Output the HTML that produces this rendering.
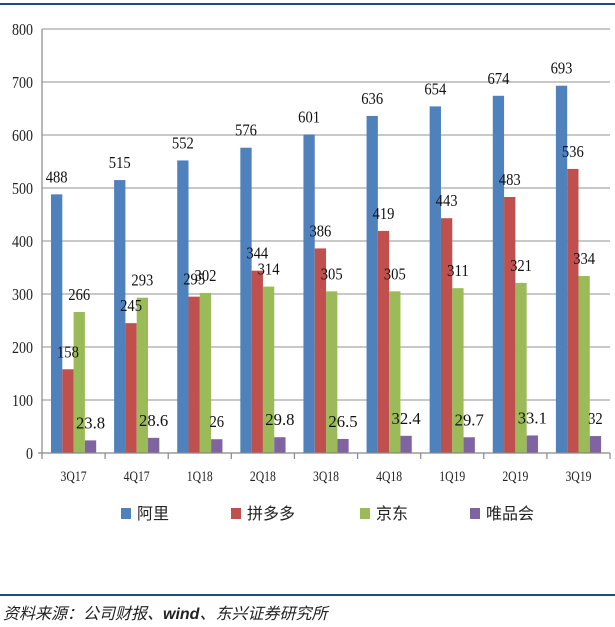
<!DOCTYPE html>
<html><head><meta charset="utf-8"><style>
body{margin:0;background:#fff;width:615px;height:627px;overflow:hidden}
svg{display:block}
</style></head><body>
<svg width="615" height="627">
<rect x="0" y="3" width="615" height="2" fill="#1f4e79"/>
<g id="grid"></g><g id="bars"></g><g id="labels"></g><g id="axes"></g>
<g font-family="'Liberation Sans','Noto Sans CJK SC',sans-serif" font-size="16" fill="#222">
<g><rect x="121" y="508" width="10" height="11" fill="#4f81bd"/><text x="137" y="519">阿里</text></g>
<g><rect x="231" y="508" width="10" height="11" fill="#c0504d"/><text x="247" y="519">拼多多</text></g>
<g><rect x="360" y="508" width="10" height="11" fill="#9bbb59"/><text x="376" y="519">京东</text></g>
<g><rect x="470" y="508" width="10" height="11" fill="#8064a2"/><text x="486" y="519">唯品会</text></g>
</g>
<rect x="0" y="594" width="615" height="2" fill="#1f4e79"/>
<text x="3" y="619" font-size="16" font-style="italic" fill="#222" font-family="'Liberation Sans','Noto Sans CJK SC',sans-serif">资料来源：公司财报、<tspan font-weight="bold">wind</tspan>、东兴证券研究所</text>
</svg>
<script>
const categories=["3Q17","4Q17","1Q18","2Q18","3Q18","4Q18","1Q19","2Q19","3Q19"];
const ali=[488,515,552,576,601,636,654,674,693];
const pdd=[158,245,295,344,386,419,443,483,536];
const jd=[266,293,302,314,305,305,311,321,334];
const vip=[23.8,28.6,26,29.8,26.5,32.4,29.7,33.1,32];
const yTicks=[0,100,200,300,400,500,600,700,800];
const seriesNames=["ali","pdd","jd","vip"];
const colors=["#4f81bd","#c0504d","#9bbb59","#8064a2"];
const NS="http://www.w3.org/2000/svg";
const X0=42,X1=610,Y0=453,Y1=29,YMAX=800;
const cw=(X1-X0)/categories.length;
const y=v=>Y0-(v/YMAX)*(Y0-Y1);
const bw=11.3;
function mk(t,a,p){const e=document.createElementNS(NS,t);for(const k in a)e.setAttribute(k,a[k]);p.appendChild(e);return e;}
const grid=document.getElementById('grid'),bars=document.getElementById('bars'),labels=document.getElementById('labels'),axes=document.getElementById('axes');
yTicks.forEach(t=>{
 if(t>0){const g=mk('line',{x1:X0,x2:X1,y1:y(t),y2:y(t),stroke:'#a6a6a6','stroke-width':1.2},grid);
 
 }
 const l=mk('text',{x:33,y:y(t)+6,'text-anchor':'end','font-family':'Liberation Serif,serif','font-size':17,fill:'#222',textLength:t>=100?21:7,lengthAdjust:'spacingAndGlyphs'},axes);
 l.textContent=t;
 
 
});
[ali,pdd,jd,vip].forEach((s,si)=>{
 s.forEach((v,i)=>{
  const bx=X0+i*cw+9+si*bw;
  const r=mk('rect',{x:bx,y:y(v),width:bw,height:Y0-y(v),fill:colors[si]},bars);
  
  
  const txt=String(v);
  const t=mk('text',{x:bx+bw/2,y:y(v)-12,'text-anchor':'middle','font-family':'Liberation Serif,serif','font-size':17,fill:'#111',textLength:txt.length*7.3,lengthAdjust:'spacingAndGlyphs'},labels);
  t.textContent=txt;
  
  
 });
});
let a=mk('line',{x1:X0,x2:X0,y1:Y1,y2:Y0,stroke:'#888','stroke-width':1.2},axes);


a=mk('line',{x1:X0-4,x2:X1,y1:Y0,y2:Y0,stroke:'#888','stroke-width':1.2},axes);


for(let i=0;i<=categories.length;i++){
 const tk=mk('line',{x1:X0+i*cw,x2:X0+i*cw,y1:Y0,y2:Y0+6,stroke:'#888','stroke-width':1.2},axes);
 
 
}
categories.forEach((c,i)=>{
 const t=mk('text',{x:X0+i*cw+cw/2,y:481,'text-anchor':'middle','font-family':'Liberation Serif,serif','font-size':15,fill:'#222',textLength:26,lengthAdjust:'spacingAndGlyphs'},axes);
 t.textContent=c;
 
 
});
</script>
</body></html>
